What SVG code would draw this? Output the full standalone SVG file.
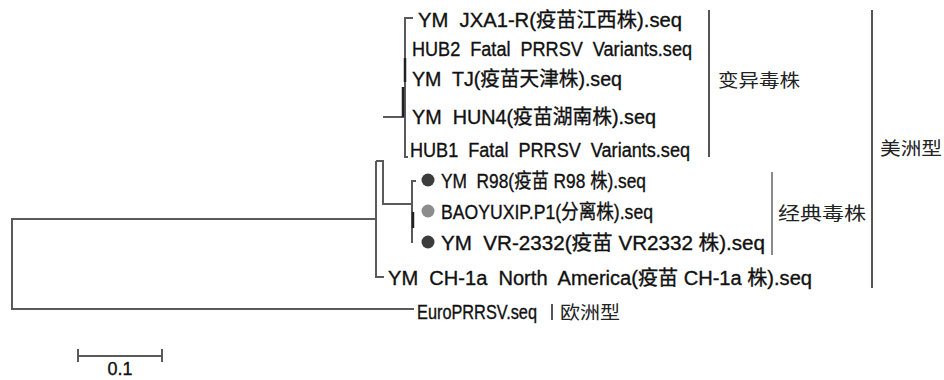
<svg xmlns="http://www.w3.org/2000/svg" width="944" height="380" viewBox="0 0 944 380">
<style>
.br{fill:none;stroke:#5a5a5a;stroke-width:2}
.bk{fill:none;stroke:#222;stroke-width:2.5}
.cl{fill:none;stroke:#555;stroke-width:2}
.cl2{fill:none;stroke:#8a8a8a;stroke-width:2}
.t{font-family:"Liberation Sans","Noto Sans CJK SC",sans-serif;font-size:20px;fill:#111;stroke:#111;stroke-width:0.35;white-space:pre}
.c{font-family:"Noto Sans CJK SC",sans-serif;font-size:18px;fill:#222}
</style>
<rect width="944" height="380" fill="#fff"/>
<g id="connectors">
<path class="br" d="M376,219 H12 V309 H414"/>
<path class="br" d="M376,161 V277 H384"/>
<path class="br" d="M376,161 H383 V204 H412"/>
<path class="br" d="M416,181 H412 V243"/>
<path class="bk" d="M413,212 V228"/>
<path class="br" d="M383,117 H404"/>
<path class="br" d="M413,18 H405 V157 H408"/>
<path class="bk" d="M405,58 V82 M403,87 V117"/>
<path class="br" d="M78,356 H162 M78,349 V362 M162,349 V362"/>
</g>
<g id="variant-clade">
<text class="t" xml:space="preserve" x="418" y="27" textLength="264" lengthAdjust="spacingAndGlyphs">YM  JXA1-R(疫苗江西株).seq</text>
<text class="t" xml:space="preserve" x="412" y="56" textLength="280" lengthAdjust="spacingAndGlyphs">HUB2  Fatal  PRRSV  Variants.seq</text>
<text class="t" xml:space="preserve" x="412" y="86" textLength="210" lengthAdjust="spacingAndGlyphs">YM  TJ(疫苗天津株).seq</text>
<text class="t" xml:space="preserve" x="412" y="124" textLength="244" lengthAdjust="spacingAndGlyphs">YM  HUN4(疫苗湖南株).seq</text>
<text class="t" xml:space="preserve" x="410" y="157" textLength="280" lengthAdjust="spacingAndGlyphs">HUB1  Fatal  PRRSV  Variants.seq</text>
<path class="cl" d="M709,10 V157"/>
<text class="c" x="718" y="87" textLength="82" lengthAdjust="spacingAndGlyphs">变异毒株</text>
</g>
<g id="classic-clade">
<circle cx="428" cy="180" r="6.5" fill="#3c3c3c"/>
<circle cx="428" cy="211" r="6.5" fill="#8c8c8c"/>
<circle cx="428" cy="242" r="6.5" fill="#3c3c3c"/>
<text class="t" xml:space="preserve" x="441" y="188" textLength="205" lengthAdjust="spacingAndGlyphs">YM  R98(疫苗 R98 株).seq</text>
<text class="t" xml:space="preserve" x="441" y="219" textLength="212" lengthAdjust="spacingAndGlyphs">BAOYUXIP.P1(分离株).seq</text>
<text class="t" xml:space="preserve" x="441" y="250" textLength="324" lengthAdjust="spacingAndGlyphs">YM  VR-2332(疫苗 VR2332 株).seq</text>
<path class="cl2" d="M772,172 V255"/>
<text class="c" x="778" y="220" textLength="88" lengthAdjust="spacingAndGlyphs">经典毒株</text>
</g>
<g id="ch1a">
<text class="t" xml:space="preserve" x="388" y="285" textLength="424" lengthAdjust="spacingAndGlyphs">YM  CH-1a  North  America(疫苗 CH-1a 株).seq</text>
</g>
<g id="america">
<path class="cl" d="M872,10 V288"/>
<text class="c" x="880" y="155" textLength="62" lengthAdjust="spacingAndGlyphs">美洲型</text>
</g>
<g id="euro">
<text class="t" x="417" y="319" textLength="120" lengthAdjust="spacingAndGlyphs">EuroPRRSV.seq</text>
<path class="cl" d="M552,304 V320"/>
<text class="c" x="560" y="319" textLength="60" lengthAdjust="spacingAndGlyphs">欧洲型</text>
</g>
<g id="scale">
<text class="t" x="120" y="375" text-anchor="middle" style="font-size:18px">0.1</text>
</g>
</svg>
